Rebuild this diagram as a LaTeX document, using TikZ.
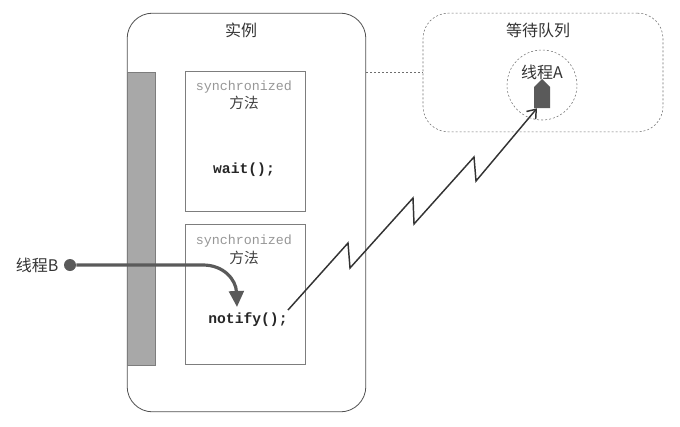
\documentclass[tikz,border=0pt]{standalone}
\usepackage{fontspec}
\setmainfont{Noto Sans CJK SC}
\newfontfamily\codefont{Liberation Mono}
\usetikzlibrary{arrows.meta, positioning, calc, shapes.arrows}
\definecolor{framegray}{RGB}{80,80,80}
\definecolor{boxgray}{RGB}{125,125,125}
\definecolor{bargray}{RGB}{168,168,168}
\definecolor{threadgray}{RGB}{90,90,90}
\definecolor{keywordgray}{RGB}{150,150,150}
\definecolor{dashgray}{RGB}{110,110,110}
\tikzset{
  instbox/.style={
    draw=framegray,
    semithick,
    rounded corners=19pt,
    minimum width=179pt,
    minimum height=299pt
  },
  lockbar/.style={
    draw=boxgray,
    fill=bargray,
    minimum width=21pt,
    minimum height=220pt
  },
  methodbox/.style={
    draw=boxgray,
    semithick,
    minimum width=90pt,
    minimum height=105pt
  },
  queuebox/.style={
    draw=dashgray,
    dashed,
    dash pattern=on 1.5pt off 1.5pt,
    rounded corners=19pt,
    minimum width=180pt,
    minimum height=89pt
  },
  label/.style={font=\fontsize{12}{14}\selectfont, text=black!80},
  keyword/.style={font=\codefont\fontsize{10}{12}\selectfont, text=keywordgray},
  kanji/.style={font=\fontsize{11}{13}\selectfont, text=black!75},
  code/.style={font=\codefont\bfseries\fontsize{11}{13}\selectfont, text=black!85},
  arrow/.style={->, line width=2.4pt, draw=threadgray, >={Triangle[length=12pt, width=11pt]}},
  jumparrow/.style={->, line width=1.1pt, draw=black!80, >={Straight Barb[length=6pt, width=9pt]}}
}

\begin{document}
\begin{tikzpicture}[x=0.75pt, y=-0.75pt]
\useasboundingbox (0,0) rectangle (680,426);

\node[instbox] (inst) at (246.5,212.5) {};
\node[label] (insttxt) at (241,30) {实例};

\node[lockbar] (lock) at (141,218.5) {};

\node[methodbox] (waitm) at (245,141.5) {};
\node[keyword] (waitkw) at (244,87) {synchronized};
\node[kanji] (waitfn) at (244,103) {方法};
\node[code] (waitcall) at (244,170) {wait();};

\node[methodbox] (notifym) at (245,294.5) {};
\node[keyword] (notifykw) at (244,241) {synchronized};
\node[kanji] (notifyfn) at (244,258) {方法};
\node[code] (notifycall) at (248,320) {notify();};

\node[queuebox] (queue) at (543,72.5) {};
\node[label] (queuetxt) at (538,30) {等待队列};
\node[circle, draw=dashgray, dashed, dash pattern=on 1.5pt off 1.5pt, minimum size=52.5pt] (circA) at (542,85) {};
\node[label] (thrAtxt) at (542,72) {线程A};
\node[single arrow, single arrow head extend=0pt, shape border rotate=90,
      fill=threadgray, minimum height=21.75pt, minimum width=12pt, inner sep=0pt] (thrA) at (542,97.5) {};

\node[label, anchor=east] (thrBtxt) at (63,265) {线程B};
\node[circle, fill=threadgray, minimum size=9pt, inner sep=0pt] (dotB) at (70,265) {};
\coordinate (hitB) at (237,307);
\coordinate (fromN) at (288,310);

\draw[densely dashed, dash pattern=on 1.5pt off 1.5pt, dashgray] (inst.east |- queue.west) -- (queue.west);

\draw[arrow] (dotB) -- (203,265) .. controls (224,265) and (236,280) .. (hitB);

\draw[jumparrow] (fromN) -- (348,243) -- (350,268) -- (413,198) -- (414,224)
  -- (474,157) -- (476,181) -- ($(thrA.south)+(-5,0)$);
\end{tikzpicture}
\end{document}
